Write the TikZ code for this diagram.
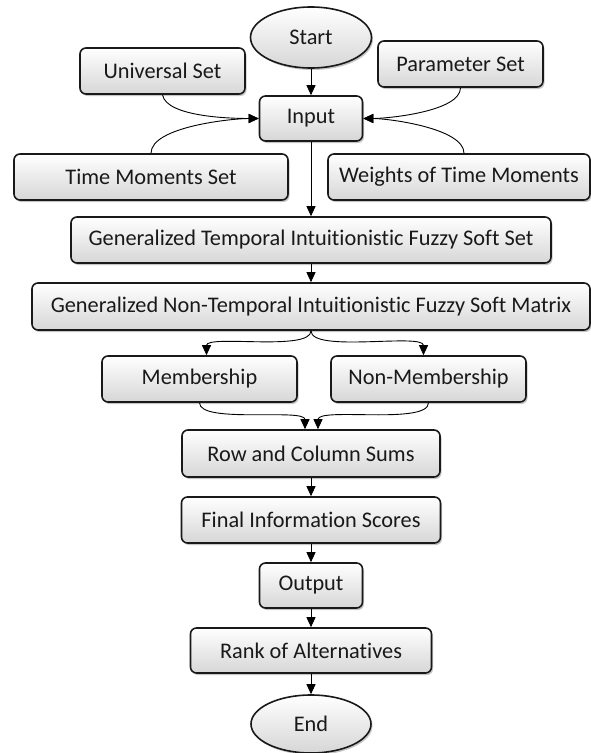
\documentclass[tikz,border=0pt]{standalone}
\usepackage{fontspec}
\setmainfont[Ligatures=NoCommon]{Carlito}
\usepackage{tikz}
\usepackage{xcolor}
\usetikzlibrary{shapes.geometric}
\usetikzlibrary{arrows.meta}
\usetikzlibrary{shadows}

\tikzset{
    stepbox/.style={draw=black!90, line width=1.6bp, rounded corners=6bp,
        top color=white, bottom color=black!16,
        drop shadow={shadow xshift=1.5bp, shadow yshift=-2bp, opacity=0.45},
        minimum height=46bp, inner sep=0pt, text=black!90,
        font=\fontsize{22.4}{26}\selectfont},
    term/.style={stepbox, ellipse, rounded corners=0pt},
    flow/.style={draw=black, line width=0.9bp, -{Triangle[length=10bp,width=9bp]}},
}

\begin{document}
\begin{tikzpicture}[x=1bp, y=-1bp]
    \useasboundingbox (0, 0) rectangle (591, 753);
    \path (311, 37.5) node [term, minimum width=121bp, minimum height=61bp] (st) {Start};
    \path (162.5, 71) node [stepbox, minimum width=165bp] (us) {Universal Set};
    \path (460.5, 64) node [stepbox, minimum width=165bp] (ps) {Parameter Set};
    \path (311, 118.5) node [stepbox, minimum width=103bp, minimum height=45bp] (in) {Input};
    \path (151, 177) node [stepbox, minimum width=274bp] (tm) {Time Moments Set};
    \path (459, 177) node [stepbox, minimum width=262bp] (wt) {Weights of Time Moments};
    \draw [flow] (st) -- (in);
    \draw [flow] (us.south) to [out=-80, in=180, looseness=0.6] (in.west);
    \draw [flow] (tm.north) to [out=90, in=180, looseness=0.6] (in.west);
    \draw [flow] (ps.south) to [out=-90, in=0, looseness=0.6] (in.east);
    \draw [flow] ([xshift=5bp]wt.north) to [out=90, in=0, looseness=0.6] (in.east);
    \path (311, 240) node [stepbox, minimum width=480bp] (gt) {Generalized Temporal Intuitionistic Fuzzy Soft Set};
    \draw [flow] (in) -- (gt);
    \path (311, 306.5) node [stepbox, minimum width=558bp, minimum height=47bp] (gn) {Generalized Non-Temporal Intuitionistic Fuzzy Soft Matrix};
    \draw [flow] (gt) -- (gn);
    \path (199.5, 379) node [stepbox, minimum width=195bp] (mb) {Membership};
    \path (428.5, 379) node [stepbox, minimum width=195bp] (nm) {Non-Membership};
    \draw [flow] (gn.south) to [out=-90, in=90, looseness=0.5] ([xshift=7bp]mb.north);
    \draw [flow] (gn.south) to [out=-90, in=90, looseness=0.5] ([xshift=-5bp]nm.north);
    \path (311, 453.5) node [stepbox, minimum width=258bp, minimum height=47bp] (rc) {Row and Column Sums};
    \draw [flow] (mb.south) to [out=-90, in=90, looseness=0.5] ([xshift=-6bp]rc.north);
    \draw [flow] (nm.south) to [out=-90, in=90, looseness=0.5] ([xshift=7bp]rc.north);
    \path (311, 520) node [stepbox, minimum width=259bp] (fi) {Final Information Scores};
    \draw [flow] (rc) -- (fi);
    \path (311, 585.5) node [stepbox, minimum width=103bp, minimum height=45bp] (ou) {Output};
    \draw [flow] (fi) -- (ou);
    \path (311, 650.5) node [stepbox, minimum width=241bp, minimum height=45bp] (rk) {Rank of Alternatives};
    \draw [flow] (ou) -- (rk);
    \path (311, 724) node [term, minimum width=120bp, minimum height=58bp] (en) {End};
    \draw [flow] (rk) -- (en);
\end{tikzpicture}
\end{document}
